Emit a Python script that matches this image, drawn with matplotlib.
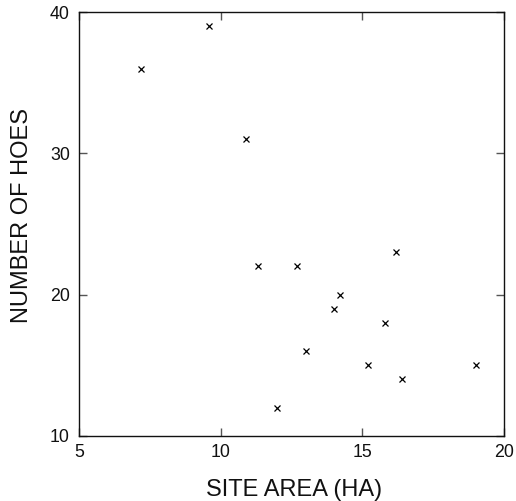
import matplotlib
matplotlib.use("Agg")
import matplotlib.pyplot as plt

plt.rcParams['font.family'] = ['Liberation Sans', 'DejaVu Sans']

# site area (ha) vs number of hoes
site_area = [7.2, 9.6, 10.9, 11.3, 12.7, 16.2, 14.2, 14.0, 15.8, 13.0, 15.2, 16.4, 12.0, 19.0]
num_hoes = [36, 39, 31, 22, 22, 23, 20, 19, 18, 16, 15, 14, 12, 15]

x_ticks = [5, 10, 15, 20]
y_ticks = [10, 20, 30, 40]

fig = plt.figure(figsize=(5.16, 5.01), dpi=100)
ax = fig.add_axes([79 / 516, 1 - 436 / 501, 425 / 516, 424 / 501])

ax.plot(site_area, num_hoes, linestyle='none', marker='x', color='black',
        markersize=4.3, markeredgewidth=0.9)

ax.set_xlim(5, 20)
ax.set_ylim(10, 40)
ax.set_xticks(x_ticks)
ax.set_yticks(y_ticks)

ax.tick_params(direction='in', top=True, right=True, length=5.5, width=1,
               color='#555555', labelsize=12.8, labelcolor='#111111')
ax.tick_params(axis='x', pad=6)
ax.tick_params(axis='y', pad=6.5)

for s in ax.spines.values():
    s.set_linewidth(1.0)
    s.set_color('#111111')

ax.set_xlabel("SITE AREA (HA)", fontsize=17, color='#111111')
ax.set_ylabel("NUMBER OF HOES", fontsize=17, color='#111111')
ax.xaxis.set_label_coords(0.505, -0.102)
ax.yaxis.set_label_coords(-0.108, 0.52)

fig.savefig("out.png", dpi=100)
